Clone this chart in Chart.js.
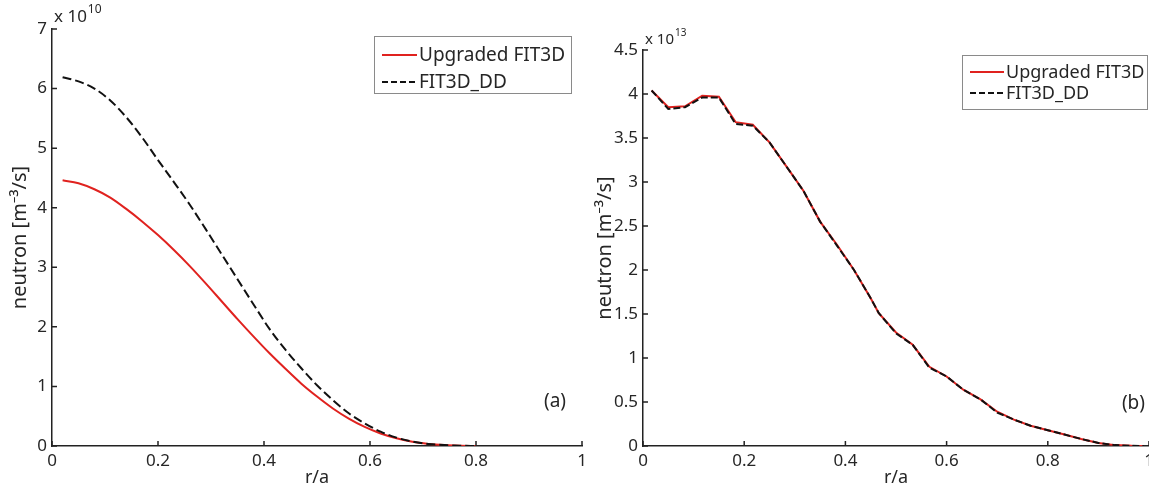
<!DOCTYPE html>
<html>
<head>
<meta charset="utf-8">
<script src="https://cdn.jsdelivr.net/npm/chart.js@4.4.1/dist/chart.umd.min.js"></script>
<style>
  html, body { margin: 0; padding: 0; background: #fff; }
  #wrap { position: relative; width: 1149px; height: 490px; overflow: hidden; }
  canvas { position: absolute; top: 0; }
  #chartA { left: 0; }
  #chartB { left: 580px; }
</style>
</head>
<body>
<div id="wrap">
  <canvas id="chartA" width="600" height="490"></canvas>
  <canvas id="chartB" width="569" height="490"></canvas>
</div>
<script>
// panel (a) - neutron rate in units of 1e10 m^-3/s
var rA = [0.02, 0.05, 0.08, 0.11, 0.14, 0.17, 0.20, 0.23, 0.26, 0.29, 0.32, 0.35, 0.38,
          0.41, 0.44, 0.47, 0.50, 0.53, 0.56, 0.59, 0.62, 0.65, 0.68, 0.71, 0.74, 0.77, 0.80];
var upgradedA = [4.46, 4.41, 4.31, 4.17, 3.98, 3.77, 3.54, 3.29, 3.02, 2.73, 2.43, 2.13, 1.84,
                 1.56, 1.30, 1.05, 0.83, 0.63, 0.46, 0.32, 0.21, 0.13, 0.07, 0.035, 0.015, 0.005, 0.0];
var ddA = [6.19, 6.12, 6.00, 5.80, 5.52, 5.18, 4.80, 4.43, 4.05, 3.64, 3.22, 2.80, 2.38,
           1.97, 1.62, 1.31, 1.02, 0.77, 0.55, 0.38, 0.24, 0.14, 0.075, 0.035, 0.015, 0.005, 0.0];

// panel (b) - neutron rate in units of 1e13 m^-3/s
var rB = [0.017, 0.05, 0.083, 0.117, 0.15, 0.183, 0.217, 0.25, 0.283, 0.317, 0.35, 0.383, 0.417,
          0.45, 0.466, 0.5, 0.533, 0.566, 0.6, 0.633, 0.667, 0.7, 0.733, 0.766, 0.8, 0.833,
          0.866, 0.9, 0.933, 0.966, 0.99];
var upgradedB = [4.04, 3.85, 3.86, 3.98, 3.97, 3.68, 3.65, 3.45, 3.18, 2.90, 2.55, 2.29, 2.00,
                 1.68, 1.51, 1.29, 1.15, 0.90, 0.79, 0.64, 0.53, 0.39, 0.30, 0.23, 0.18, 0.13,
                 0.08, 0.035, 0.01, 0.002, 0.0];
var ddB = [4.04, 3.83, 3.85, 3.96, 3.96, 3.66, 3.64, 3.45, 3.18, 2.90, 2.55, 2.28, 2.00,
           1.68, 1.51, 1.28, 1.15, 0.89, 0.79, 0.64, 0.53, 0.38, 0.30, 0.23, 0.18, 0.13,
           0.08, 0.035, 0.01, 0.002, 0.0];

var xTicks = [0, 0.2, 0.4, 0.6, 0.8, 1];
var xTickLabels = ['0', '0.2', '0.4', '0.6', '0.8', '1'];
var yTicksA = [0, 1, 2, 3, 4, 5, 6, 7];
var yTickLabelsA = ['0', '1', '2', '3', '4', '5', '6', '7'];
var yTicksB = [0, 0.5, 1, 1.5, 2, 2.5, 3, 3.5, 4, 4.5];
var yTickLabelsB = ['0', '0.5', '1', '1.5', '2', '2.5', '3', '3.5', '4', '4.5'];

var FONT = "'Noto Sans', 'DejaVu Sans', sans-serif";
var TEXT = '#262626';
var RED = '#e0221f';

function toPoints(xs, ys) {
  return xs.map(function (x, i) { return { x: x, y: ys[i] }; });
}

// ticks pointing into the axes, exponent, panel tag and legend box
function panelPlugin(o) {
  return {
    id: 'panelExtras',
    afterDraw: function (chart) {
      var ctx = chart.ctx, area = chart.chartArea;
      var xs = chart.scales.x, ys = chart.scales.y;
      ctx.save();
      ctx.strokeStyle = '#222';
      ctx.lineWidth = 1.5;
      ctx.beginPath();
      xs.ticks.forEach(function (t) {
        var px = xs.getPixelForValue(t.value);
        ctx.moveTo(px, area.bottom);
        ctx.lineTo(px, area.bottom - 5);
      });
      ys.ticks.forEach(function (t) {
        var py = ys.getPixelForValue(t.value);
        ctx.moveTo(area.left, py);
        ctx.lineTo(area.left + 5, py);
      });
      ctx.stroke();

      ctx.fillStyle = TEXT;
      ctx.textAlign = 'left';
      ctx.textBaseline = 'alphabetic';
      ctx.font = o.expSize + 'px ' + FONT;
      var base = 'x 10';
      ctx.fillText(base, area.left + 2, area.top - o.expGap);
      var w = ctx.measureText(base).width;
      ctx.font = Math.round(o.expSize * 0.68) + 'px ' + FONT;
      ctx.fillText(o.exponent, area.left + 3 + w, area.top - o.expGap - o.expSize * 0.55);

      ctx.font = o.tagSize + 'px ' + FONT;
      ctx.textAlign = 'right';
      ctx.textBaseline = 'middle';
      ctx.fillText(o.tag, o.tagX, o.tagY);

      var lg = o.legend;
      ctx.fillStyle = '#fff';
      ctx.fillRect(lg.x, lg.y, lg.w, lg.h);
      ctx.strokeStyle = '#8a8a8a';
      ctx.lineWidth = 1;
      ctx.strokeRect(lg.x + 0.5, lg.y + 0.5, lg.w, lg.h);
      ctx.font = lg.size + 'px ' + FONT;
      ctx.textAlign = 'left';
      ctx.textBaseline = 'middle';
      chart.data.datasets.forEach(function (ds, i) {
        var cy = lg.y + lg.row0 + i * lg.rowGap;
        ctx.strokeStyle = ds.borderColor;
        ctx.lineWidth = ds.borderWidth;
        ctx.setLineDash(ds.borderDash ? [6, 3] : []);
        ctx.beginPath();
        ctx.moveTo(lg.x + 8, cy);
        ctx.lineTo(lg.x + 8 + lg.line, cy);
        ctx.stroke();
        ctx.setLineDash([]);
        ctx.fillStyle = TEXT;
        ctx.fillText(ds.label, lg.x + 10 + lg.line, cy + 1);
      });
      ctx.restore();
    }
  };
}

function makeChart(id, o) {
  return new Chart(document.getElementById(id), {
    type: 'line',
    data: {
      datasets: [
        { label: 'Upgraded FIT3D', data: toPoints(o.r, o.up), borderColor: RED, borderWidth: 2,
          pointRadius: 0, order: 1, tension: o.tension, cubicInterpolationMode: o.mode },
        { label: 'FIT3D_DD', data: toPoints(o.r, o.dd), borderColor: '#111', borderWidth: 2,
          borderDash: o.dash, pointRadius: 0, order: 0, tension: o.tension, cubicInterpolationMode: o.mode }
      ]
    },
    options: {
      responsive: false,
      animation: false,
      devicePixelRatio: 1,
      layout: { padding: { top: o.top, right: o.right, left: 0, bottom: 0 } },
      plugins: { legend: { display: false }, tooltip: { enabled: false } },
      scales: {
        x: {
          type: 'linear', min: 0, max: 1,
          afterBuildTicks: function (s) { s.ticks = xTicks.map(function (v) { return { value: v }; }); },
          afterFit: function (s) { s.height = 44; s.paddingLeft = 0; s.paddingRight = 0; },
          grid: { display: false, drawTicks: false },
          border: { display: true, color: '#222', width: 1.5 },
          ticks: { padding: 5, color: TEXT, font: { family: FONT, size: 17 },
                   maxRotation: 0, autoSkip: false,
                   callback: function (v, i) { return xTickLabels[i]; } },
          title: { display: true, text: 'r/a', color: TEXT, font: { family: FONT, size: 18 },
                   padding: { top: 0, bottom: 1 } }
        },
        y: {
          type: 'linear', min: 0, max: o.yMax,
          afterBuildTicks: function (s) { s.ticks = o.yTicks.map(function (v) { return { value: v }; }); },
          afterFit: function (s) { s.width = o.yWidth; s.paddingTop = 0; s.paddingBottom = 0; },
          grid: { display: false, drawTicks: false },
          border: { display: true, color: '#222', width: 1.5 },
          ticks: { padding: 5, color: TEXT, font: { family: FONT, size: 17 }, autoSkip: false,
                   callback: function (v, i) { return o.yLabels[i]; } },
          title: { display: true, text: 'neutron [m\u207B\u00B3/s]', color: TEXT,
                   font: { family: FONT, size: 20 }, padding: { top: o.titlePad, bottom: 0 } }
        }
      }
    },
    plugins: [panelPlugin(o)]
  });
}

makeChart('chartA', {
  r: rA, up: upgradedA, dd: ddA, tension: 0.4, mode: 'monotone', dash: [9, 4],
  top: 29, right: 18, yWidth: 52, titlePad: 8,
  yMax: 7, yTicks: yTicksA, yLabels: yTickLabelsA,
  exponent: '10', expSize: 17, expGap: 7,
  tag: '(a)', tagSize: 19, tagX: 566, tagY: 402,
  legend: { x: 374, y: 36, w: 197, h: 57, row0: 19, rowGap: 27, line: 35, size: 19 }
});

makeChart('chartB', {
  r: rB, up: upgradedB, dd: ddB, tension: 0, mode: 'default', dash: [7, 3],
  top: 50, right: 0, yWidth: 63, titlePad: 13,
  yMax: 4.5, yTicks: yTicksB, yLabels: yTickLabelsB,
  exponent: '13', expSize: 15, expGap: 6,
  tag: '(b)', tagSize: 19, tagX: 565, tagY: 404,
  legend: { x: 382, y: 55, w: 185, h: 54, row0: 17, rowGap: 21, line: 34, size: 18 }
});
</script>
</body>
</html>
